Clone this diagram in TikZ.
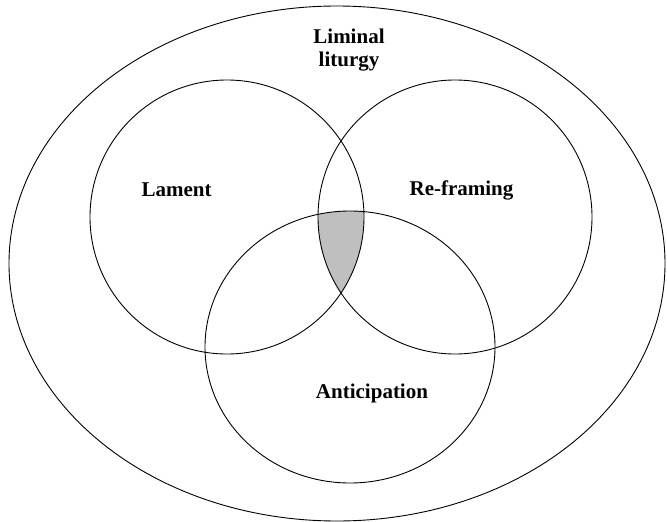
\documentclass[tikz,border=0pt]{standalone}
\usepackage{fontspec}
\setmainfont{Liberation Serif}
\usepackage{tikz}
\usetikzlibrary{positioning}

\begin{document}
\begin{tikzpicture}
[x=1pt, y=-1pt,
 setring/.style={draw, line width=0.9pt},
 core/.style={fill=black!25},
 setlabel/.style={font=\fontsize{21}{23}\selectfont\bfseries, align=center, inner sep=0pt}]
\useasboundingbox (0,0) rectangle (667,522);
\coordinate (liminalC) at (337,263.5);
\coordinate (lamentC)  at (227,217);
\coordinate (reframeC) at (455,217);
\coordinate (anticC)   at (350,347);
% shaded core where all three meet
\begin{scope}
  \clip (lamentC) circle (137pt);
  \clip (reframeC) circle (137pt);
  \fill[core] (anticC) ellipse (145pt and 136pt);
\end{scope}
\draw[setring] (liminalC) ellipse (328pt and 257.5pt);
\draw[setring] (lamentC)  circle (137pt);
\draw[setring] (reframeC) circle (137pt);
\draw[setring] (anticC)   ellipse (145pt and 136pt);
\node[setlabel] (liminal) at (349,50)  {Liminal\\liturgy};
\node[setlabel] (lament)  at (176.5,189.5) {Lament};
\node[setlabel] (reframe) at (461.5,190) {Re-framing};
\node[setlabel] (antic)   at (372,393) {Anticipation};
\end{tikzpicture}
\end{document}
